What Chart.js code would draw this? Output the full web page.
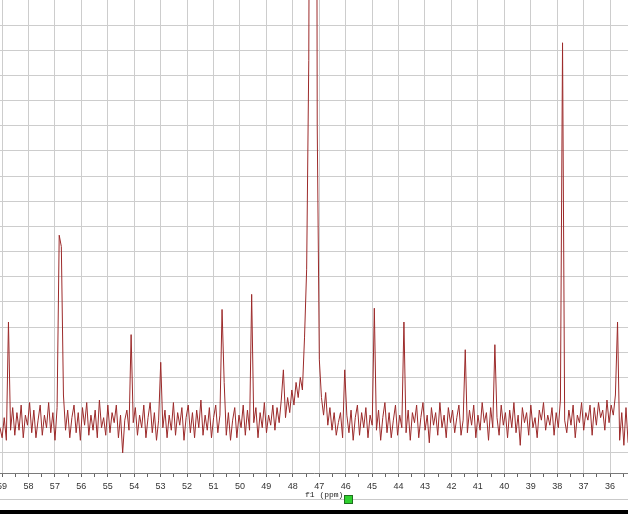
<!DOCTYPE html>
<html>
<head>
<meta charset="utf-8">
<script src="https://cdn.jsdelivr.net/npm/chart.js@4"></script>
<style>
  body { margin: 0; background: #fff; }
  #wrap { position: relative; width: 628px; height: 514px; overflow: hidden; }
  #spectrum { position: absolute; left: 0; top: 0; }
  .base-rule { position: absolute; left: 0; top: 499px; width: 628px; height: 1px; background: #c9c9c9; }
  .axis-title { position: absolute; left: 305px; top: 490px; font: 8px "Liberation Mono", "DejaVu Sans Mono", monospace; color: #222; white-space: pre; }
  .marker { position: absolute; left: 344px; top: 495px; width: 7px; height: 7px; background: #2fd02f; border: 1px solid #1f6f1f; }
  .bottom-bar { position: absolute; left: 0; top: 510px; width: 628px; height: 4px; background: #000; }
</style>
</head>
<body>
<div id="wrap">
  <canvas id="spectrum" width="628" height="514"></canvas>
  <div class="base-rule"></div>
  <div class="axis-title">f1 (ppm)</div>
  <div class="marker"></div>
  <div class="bottom-bar"></div>
</div>
<script>
// spectrum sampled every 0.08 ppm from the left edge (59.08 ppm) to the right edge
const ppmFirst = 59.076;
const ppmStep = 0.08;
const intensity = [
  1.0, 0.6, 1.4, 0.5, 5.2, 0.9, 1.8, 0.7, 1.6, 0.9, 1.9, 0.6, 1.5, 1.1, 2.0, 0.8, 1.7, 0.6, 1.3, 1.9,
  0.7, 1.5, 1.0, 2.0, 0.8, 1.6, 0.5, 1.8, 8.65, 8.2, 2.3, 0.9, 1.7, 0.6, 1.4, 1.9, 0.8, 1.6, 0.5, 1.8,
  1.1, 2.0, 0.7, 1.5, 0.9, 1.7, 0.6, 2.1, 1.0, 1.4, 0.7, 1.9, 0.8, 1.6, 1.2, 1.9, 0.6, 1.5, 0.0, 1.3,
  1.7, 0.9, 4.7, 1.2, 1.8, 0.7, 1.5, 1.0, 1.9, 0.6, 1.4, 2.0, 0.8, 1.6, 0.5, 1.3, 3.6, 1.0, 1.7, 0.6,
  1.5, 0.9, 2.0, 0.7, 1.6, 1.1, 1.8, 0.5, 1.4, 1.9, 0.8, 1.6, 0.6, 1.7, 1.0, 2.1, 0.7, 1.5, 0.9, 1.8,
  0.6, 1.4, 1.9, 0.8, 1.5, 5.7, 2.8, 0.7, 1.6, 0.5, 1.3, 1.8, 0.6, 1.5, 1.0, 1.9, 0.7, 1.7, 0.9, 6.3,
  1.2, 1.8, 0.6, 1.6, 1.0, 2.0, 0.8, 1.5, 1.1, 1.9, 0.9, 1.8, 1.2, 2.1, 3.3, 1.4, 2.2, 1.6, 2.5, 1.9,
  2.8, 2.2, 3.0, 2.5, 4.6, 7.3, 15.6, 40, 80, 60, 13, 3.7, 2.2, 1.5, 2.4, 1.1, 1.8, 0.9, 1.6, 0.7,
  1.2, 1.6, 0.6, 3.3, 1.5, 0.8, 1.7, 0.5, 1.4, 1.9, 0.7, 1.6, 1.0, 1.8, 0.6, 1.5, 1.1, 5.75, 0.9, 1.7,
  0.5, 1.4, 2.0, 0.8, 1.6, 0.6, 1.3, 1.9, 0.7, 1.5, 1.0, 5.2, 0.8, 1.7, 0.5, 1.6, 1.2, 1.9, 0.6, 1.4,
  2.0, 0.9, 1.5, 0.4, 1.8, 1.1, 1.6, 0.7, 2.0, 1.0, 1.5, 0.6, 1.8, 1.2, 1.7, 0.8, 1.4, 1.9, 0.7, 1.3,
  4.1, 0.8, 1.7, 1.1, 1.9, 0.6, 1.5, 0.9, 2.0, 1.2, 1.6, 0.5, 1.8, 1.0, 4.3, 1.4, 0.7, 1.9, 1.1, 1.6,
  0.6, 1.7, 1.0, 2.0, 0.8, 1.5, 0.3, 1.8, 1.2, 1.6, 0.7, 1.9, 1.0, 1.4, 0.6, 1.7, 1.3, 2.0, 0.9, 1.5,
  1.1, 1.8, 0.7, 1.6, 1.0, 2.1, 16.3, 1.3, 0.8, 1.7, 1.1, 1.9, 0.6, 1.5, 1.2, 2.0, 0.9, 1.6, 1.3, 1.9,
  0.7, 1.8, 1.1, 2.0, 1.4, 1.7, 0.9, 2.1, 1.2, 1.9, 1.5, 2.3, 5.2, 0.5, 1.6, 0.3, 1.8, 0.4
];

// axis ticks
const ppmTicks = [36, 37, 38, 39, 40, 41, 42, 43, 44, 45, 46, 47, 48, 49, 50, 51, 52, 53, 54, 55, 56, 57, 58, 59];
const yGrid = [0, 1, 2, 3, 4, 5, 6, 7, 8, 9, 10, 11, 12, 13, 14, 15, 16, 17];

const points = intensity.map((v, i) => ({ x: ppmFirst - i * ppmStep, y: v }));

const xTickValues = [];
ppmTicks.forEach(t => { xTickValues.push(t); xTickValues.push(t + 0.5); });
xTickValues.push(35.5);
xTickValues.sort((a, b) => a - b);

new Chart(document.getElementById('spectrum'), {
  type: 'line',
  data: {
    datasets: [{
      data: points,
      borderColor: 'rgb(156, 42, 42)',
      borderWidth: 1,
      pointRadius: 0,
      tension: 0,
      fill: false
    }]
  },
  options: {
    responsive: false,
    animation: false,
    layout: { padding: 0 },
    plugins: { legend: { display: false }, tooltip: { enabled: false } },
    scales: {
      x: {
        type: 'linear',
        reverse: true,
        min: 35.32,
        max: 59.076,
        afterBuildTicks: (scale) => {
          scale.ticks = xTickValues.filter(v => v >= scale.min && v <= scale.max).map(v => ({ value: v }));
        },
        afterFit: (scale) => {
          scale.height = 41;
          scale.paddingLeft = 0;
          scale.paddingRight = 0;
        },
        grid: {
          color: (ctx) => (ctx.tick && Number.isInteger(ctx.tick.value)) ? '#cdcdcd' : 'rgba(0,0,0,0)',
          tickColor: '#666',
          tickLength: 4,
          lineWidth: 1
        },
        border: { display: true, color: '#7a7a7a', width: 1 },
        ticks: {
          autoSkip: false,
          maxRotation: 0,
          padding: 4,
          color: '#333',
          font: { family: 'Liberation Sans', size: 9 },
          callback: (v) => Number.isInteger(v) ? String(v) : ''
        }
      },
      y: {
        min: -0.8,
        max: 18,
        afterBuildTicks: (scale) => {
          scale.ticks = yGrid.map(v => ({ value: v }));
        },
        afterFit: (scale) => { scale.width = 0; },
        grid: { color: '#cdcdcd', drawTicks: false, lineWidth: 1 },
        border: { display: false },
        ticks: { display: false }
      }
    }
  }
});
</script>
</body>
</html>
